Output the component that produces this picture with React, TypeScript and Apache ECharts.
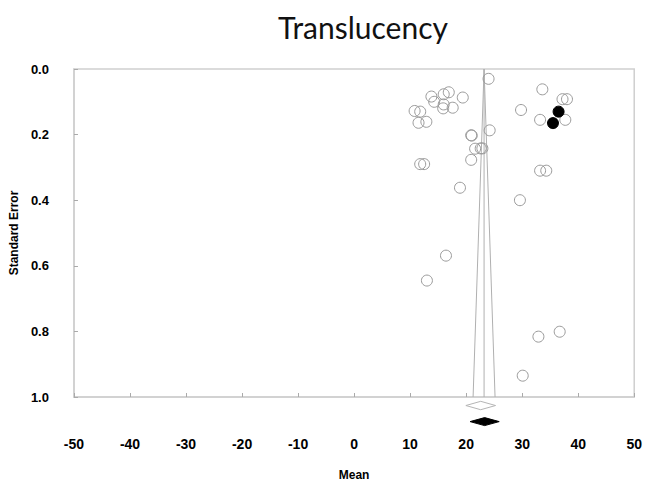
import React, { useEffect, useRef } from "react";
import * as echarts from "echarts";

// Study points (open circles): mean and standard error
const openMeans = [24.0, 13.8, 14.3, 16.0, 16.9, 19.4, 16.0, 15.9, 17.6, 10.8, 11.8, 11.5, 12.9, 24.2, 20.9, 21.0, 21.6, 22.6, 22.9, 20.9, 11.8, 12.5, 18.9, 16.4, 13.0, 33.6, 37.2, 38.0, 29.8, 33.2, 37.7, 33.2, 34.3, 29.6, 32.9, 36.7, 30.1];
const openSE = [0.030, 0.084, 0.100, 0.077, 0.071, 0.087, 0.108, 0.120, 0.118, 0.128, 0.130, 0.164, 0.161, 0.187, 0.202, 0.203, 0.243, 0.242, 0.242, 0.277, 0.290, 0.290, 0.362, 0.569, 0.645, 0.062, 0.092, 0.092, 0.125, 0.155, 0.155, 0.310, 0.310, 0.400, 0.816, 0.801, 0.935];

// Imputed points (filled circles)
const filledMeans = [36.5, 35.5];
const filledSE = [0.130, 0.165];

// Funnel
const funnelCenter = 23.2;
const funnelHalfWidthAtMax = 1.96;
const funnelMaxSE = 1.0;

// Summary diamonds: [mean, lower, upper, y-position (SE scale)]
const openDiamond = [22.6, 19.95, 25.25, 1.026];
const filledDiamond = [23.3, 20.7, 25.9, 1.075];

const xTicks = { min: -50, max: 50, interval: 10 };
const yTicks = { min: 0, max: 1, interval: 0.2 };

export default function App() {
  const ref = useRef<HTMLDivElement>(null);
  useEffect(() => {
    if (!ref.current) return;
    document.body.style.margin = "0";
    const chart = echarts.init(ref.current, null, { renderer: "svg" });
    const axisColor = "#cfcfcf";
    const labelFont = "Liberation Sans, Arial, sans-serif";

    const diamondSeries = (d: number[], filled: boolean, halfH: number) => ({
      type: "custom",
      clip: false,
      silent: true,
      z: 5,
      data: [d],
      renderItem: (params: any, api: any) => {
        const mean = api.value(0);
        const lo = api.value(1);
        const hi = api.value(2);
        const y = api.value(3);
        const pL = api.coord([lo, y]);
        const pR = api.coord([hi, y]);
        const pC = api.coord([mean, y]);
        return {
          type: "polygon",
          shape: {
            points: [
              [pL[0], pL[1]],
              [pC[0], pC[1] - halfH],
              [pR[0], pR[1]],
              [pC[0], pC[1] + halfH],
            ],
          },
          style: filled
            ? { fill: "#000", stroke: "#000", lineWidth: 1 }
            : { fill: "#fff", stroke: "#b5b5b5", lineWidth: 1 },
        };
      },
    });

    chart.setOption({
      animation: false,
      title: {
        text: "Translucency",
        left: 273,
        top: 7,
        textStyle: {
          fontFamily: "Lato, 'Open Sans', sans-serif",
          fontWeight: "normal",
          fontSize: 30,
          color: "#111",
        },
      },
      grid: {
        left: 68,
        right: 10,
        top: 69,
        bottom: 89,
        show: true,
        borderColor: axisColor,
        borderWidth: 1.5,
      },
      xAxis: {
        type: "value",
        min: xTicks.min,
        max: xTicks.max,
        interval: xTicks.interval,
        name: "Mean",
        nameLocation: "middle",
        nameGap: 72,
        nameTextStyle: { fontFamily: labelFont, fontWeight: "bold", fontSize: 12, color: "#000" },
        axisLine: { show: true, onZero: false, lineStyle: { color: axisColor, width: 1.5 } },
        axisTick: { show: true, inside: true, length: 4, lineStyle: { color: "#aaa" } },
        axisLabel: { margin: 40, fontFamily: labelFont, fontWeight: "bold", fontSize: 14, color: "#000" },
        splitLine: { show: false },
      },
      yAxis: {
        type: "value",
        inverse: true,
        min: yTicks.min,
        max: yTicks.max,
        interval: yTicks.interval,
        name: "Standard Error",
        nameLocation: "middle",
        nameGap: 46,
        nameRotate: 90,
        nameTextStyle: { fontFamily: labelFont, fontWeight: "bold", fontSize: 12, color: "#000" },
        axisLine: { show: true, onZero: false, lineStyle: { color: axisColor, width: 1.5 } },
        axisTick: { show: true, inside: true, length: 4, lineStyle: { color: "#aaa" } },
        axisLabel: {
          margin: 25,
          fontFamily: labelFont,
          fontWeight: "bold",
          fontSize: 13,
          color: "#000",
          formatter: (v: number) => v.toFixed(1),
        },
        splitLine: { show: false },
      },
      series: [
        {
          type: "line",
          data: [
            [funnelCenter - funnelHalfWidthAtMax, funnelMaxSE],
            [funnelCenter, 0],
            [funnelCenter + funnelHalfWidthAtMax, funnelMaxSE],
          ],
          symbol: "none",
          lineStyle: { color: "#b0b0b0", width: 1 },
          silent: true,
          z: 1,
        },
        {
          type: "line",
          data: [
            [funnelCenter, 0],
            [funnelCenter, funnelMaxSE],
          ],
          symbol: "none",
          lineStyle: { color: "#b0b0b0", width: 1 },
          silent: true,
          z: 1,
        },
        {
          type: "scatter",
          data: openMeans.map((m, i) => [m, openSE[i]]),
          symbol: "circle",
          symbolSize: 11,
          itemStyle: { color: "rgba(255,255,255,0)", borderColor: "#9a9a9a", borderWidth: 1, opacity: 1 },
          z: 3,
        },
        {
          type: "scatter",
          data: filledMeans.map((m, i) => [m, filledSE[i]]),
          symbol: "circle",
          symbolSize: 11,
          itemStyle: { color: "#000", borderColor: "#000", borderWidth: 1, opacity: 1 },
          z: 4,
        },
        diamondSeries(openDiamond, false, 4.2),
        diamondSeries(filledDiamond, true, 4),
      ],
    });
    return () => chart.dispose();
  }, []);
  return <div ref={ref} style={{ width: 645, height: 486 }} />;
}
